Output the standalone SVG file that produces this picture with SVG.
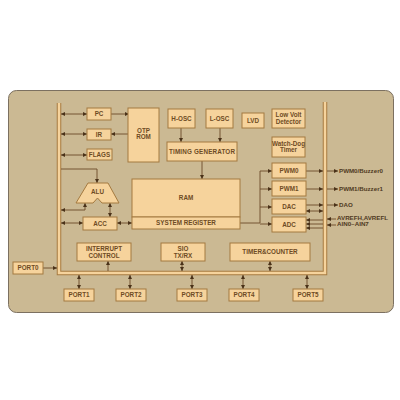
<svg xmlns="http://www.w3.org/2000/svg" width="400" height="400" viewBox="0 0 400 400">
<style>
.box{fill:#f6d39c;stroke:#a47a40;stroke-width:1}
.t{font-family:"Liberation Sans",Arial,sans-serif;font-size:6.3px;font-weight:bold;fill:#6e4b24;text-anchor:middle}
.o{font-family:"Liberation Sans",Arial,sans-serif;font-size:6.2px;font-weight:bold;fill:#4f3a22}
.c{fill:none;stroke:#6b4a28;stroke-width:0.9}
</style>
<defs>
<marker id="a" viewBox="0 0 6 6" refX="6" refY="3" markerWidth="4" markerHeight="4" markerUnits="userSpaceOnUse" orient="auto-start-reverse">
<path d="M0,0 L6,3 L0,6 z" fill="#4a3219"/>
</marker>
</defs>
<rect width="400" height="400" fill="#ffffff"/>
<rect x="8.5" y="90.5" width="385" height="222" rx="8" fill="#cbb993" stroke="#7c7060" stroke-width="1"/>
<g id="bus">
<path d="M59,103 V273 H325 V102" fill="none" stroke="#a47a40" stroke-width="4.5"/>
<path d="M59,103 V273 H325 V102" fill="none" stroke="#f6d39c" stroke-width="2.5"/>
</g>
<g id="connectors">
<path class="c" d="M61,114 H87" marker-start="url(#a)" marker-end="url(#a)"/>
<path class="c" d="M111,114 H129" marker-end="url(#a)"/>
<path class="c" d="M129,134 H111" marker-end="url(#a)"/>
<path class="c" d="M61,134 H87" marker-start="url(#a)" marker-end="url(#a)"/>
<path class="c" d="M61,155 H87" marker-start="url(#a)" marker-end="url(#a)"/>
<path class="c" d="M61,169 H97 V183" marker-end="url(#a)"/>
<path class="c" d="M85,203 V210 H61" marker-start="url(#a)" marker-end="url(#a)"/>
<path class="c" d="M110,203 V217" marker-start="url(#a)" marker-end="url(#a)"/>
<path class="c" d="M61,223 H83" marker-start="url(#a)" marker-end="url(#a)"/>
<path class="c" d="M117,223 H132" marker-start="url(#a)" marker-end="url(#a)"/>
<path class="c" d="M240,223 H260 V171"/>
<path class="c" d="M260,171 H272" marker-end="url(#a)"/>
<path class="c" d="M260,189 H272" marker-end="url(#a)"/>
<path class="c" d="M260,207 H272" marker-end="url(#a)"/>
<path class="c" d="M260,224 H272" marker-end="url(#a)"/>
<path class="c" d="M306,171 H323" marker-end="url(#a)"/>
<path class="c" d="M327,171 H338" marker-end="url(#a)"/>
<path class="c" d="M306,189 H323" marker-end="url(#a)"/>
<path class="c" d="M327,189 H338" marker-end="url(#a)"/>
<path class="c" d="M306,205 H323" marker-end="url(#a)"/>
<path class="c" d="M327,205 H338" marker-end="url(#a)"/>
<path class="c" d="M306,211 H323" marker-start="url(#a)" marker-end="url(#a)"/>
<path class="c" d="M323,220 H306" marker-end="url(#a)"/>
<path class="c" d="M323,224 H306" marker-end="url(#a)"/>
<path class="c" d="M323,228 H306" marker-end="url(#a)"/>
<path class="c" d="M336,219 H327" marker-end="url(#a)"/>
<path class="c" d="M336,225 H327" marker-end="url(#a)"/>
<path class="c" d="M43,268 H57" marker-end="url(#a)"/>
<path class="c" d="M108,271 V261" marker-end="url(#a)"/>
<path class="c" d="M182,261 V271" marker-start="url(#a)" marker-end="url(#a)"/>
<path class="c" d="M270,261 V271" marker-start="url(#a)" marker-end="url(#a)"/>
<path class="c" d="M79,275 V289" marker-start="url(#a)" marker-end="url(#a)"/>
<path class="c" d="M130,275 V289" marker-start="url(#a)" marker-end="url(#a)"/>
<path class="c" d="M192,275 V289" marker-start="url(#a)" marker-end="url(#a)"/>
<path class="c" d="M243,275 V289" marker-start="url(#a)" marker-end="url(#a)"/>
<path class="c" d="M307,275 V289" marker-start="url(#a)" marker-end="url(#a)"/>
<path class="c" d="M181,128 V142" marker-end="url(#a)"/>
<path class="c" d="M220,128 V142" marker-end="url(#a)"/>
<path class="c" d="M202,161 V179" marker-end="url(#a)"/>
</g>
<g id="pc"><rect class="box" x="87" y="108" width="24" height="12"/><text class="t" x="99" y="116.2">PC</text></g>
<g id="ir"><rect class="box" x="87" y="129" width="24" height="11"/><text class="t" x="99" y="136.7">IR</text></g>
<g id="flags"><rect class="box" x="87" y="149" width="25" height="11"/><text class="t" x="99.5" y="156.7">FLAGS</text></g>
<g id="otprom"><rect class="box" x="128" y="108" width="31" height="54"/><text class="t" x="143.5" y="133">OTP</text><text class="t" x="143.5" y="139">ROM</text></g>
<g id="hosc"><rect class="box" x="168" y="109" width="27" height="19"/><text class="t" x="181.5" y="120.5">H-OSC</text></g>
<g id="losc"><rect class="box" x="206" y="109" width="27" height="19"/><text class="t" x="219.5" y="120.5">L-OSC</text></g>
<g id="lvd"><rect class="box" x="242" y="113" width="22" height="15"/><text class="t" x="253" y="122.5">LVD</text></g>
<g id="lowvolt"><rect class="box" x="272" y="109" width="33" height="19"/><text class="t" x="288.5" y="117">Low Volt</text><text class="t" x="288.5" y="123.5">Detector</text></g>
<g id="timinggen"><rect class="box" x="167" y="142" width="70" height="19"/><text class="t" x="202" y="153.5" textLength="66">TIMING GENERATOR</text></g>
<g id="watchdog"><rect class="box" x="272" y="137" width="33" height="20"/><text class="t" x="288.5" y="145.5">Watch-Dog</text><text class="t" x="288.5" y="152">Timer</text></g>
<g id="pwm0"><rect class="box" x="272" y="163" width="34" height="15"/><text class="t" x="289" y="172.5">PWM0</text></g>
<g id="pwm1"><rect class="box" x="272" y="181" width="34" height="15"/><text class="t" x="289" y="190.5">PWM1</text></g>
<g id="dac"><rect class="box" x="272" y="199" width="34" height="15"/><text class="t" x="289" y="208.5">DAC</text></g>
<g id="adc"><rect class="box" x="272" y="217" width="34" height="15"/><text class="t" x="289" y="226.5">ADC</text></g>
<g id="ram"><rect class="box" x="132" y="179" width="108" height="38"/><text class="t" x="186" y="200">RAM</text></g>
<g id="sysreg"><rect class="box" x="132" y="217" width="108" height="12"/><text class="t" x="186" y="225.2">SYSTEM REGISTER</text></g>
<g id="alu"><path class="box" d="M88,183 H108 L119,203 H102 L97.5,198 L93,203 H76 Z"/><text class="t" x="97.5" y="194">ALU</text></g>
<g id="acc"><rect class="box" x="83" y="217" width="34" height="13"/><text class="t" x="100" y="225.7">ACC</text></g>
<g id="interrupt"><rect class="box" x="77" y="243" width="54" height="18"/><text class="t" x="104" y="250.5">INTERRUPT</text><text class="t" x="104" y="257.5">CONTROL</text></g>
<g id="sio"><rect class="box" x="161" y="243" width="44" height="18"/><text class="t" x="183" y="250.5">SIO</text><text class="t" x="183" y="257.5">TX/RX</text></g>
<g id="timer"><rect class="box" x="230" y="243" width="80" height="18"/><text class="t" x="270" y="254">TIMER&amp;COUNTER</text></g>
<g id="port0"><rect class="box" x="13" y="262" width="30" height="12"/><text class="t" x="28" y="270.2">PORT0</text></g>
<g id="port1"><rect class="box" x="64" y="289" width="30" height="12"/><text class="t" x="79" y="297.2">PORT1</text></g>
<g id="port2"><rect class="box" x="116" y="289" width="30" height="12"/><text class="t" x="131" y="297.2">PORT2</text></g>
<g id="port3"><rect class="box" x="177" y="289" width="30" height="12"/><text class="t" x="192" y="297.2">PORT3</text></g>
<g id="port4"><rect class="box" x="229" y="289" width="30" height="12"/><text class="t" x="244" y="297.2">PORT4</text></g>
<g id="port5"><rect class="box" x="293" y="289" width="30" height="12"/><text class="t" x="308" y="297.2">PORT5</text></g>
<g id="labels">
<text class="o" x="339" y="173.2">PWM0/Buzzer0</text>
<text class="o" x="339" y="191.2">PWM1/Buzzer1</text>
<text class="o" x="339" y="207.2">DAO</text>
<text class="o" x="337" y="220">AVREFH,AVREFL</text>
<text class="o" x="337" y="226">AIN0~AIN7</text>
</g>
</svg>
